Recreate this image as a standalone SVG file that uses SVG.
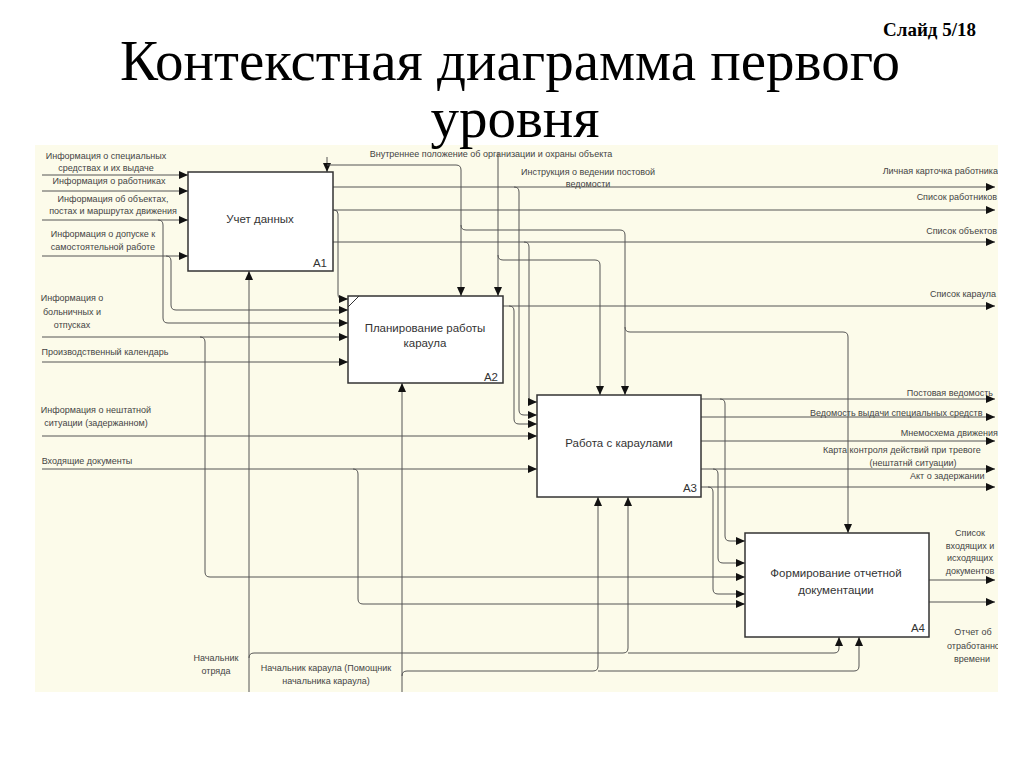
<svg xmlns="http://www.w3.org/2000/svg" width="1024" height="767" viewBox="0 0 1024 767">
<defs>
<marker id="ah" markerUnits="userSpaceOnUse" markerWidth="10" markerHeight="8" refX="9" refY="4" orient="auto">
<path d="M0,0 L9,4 L0,8 z" fill="#111"/>
</marker>
<clipPath id="area"><rect x="35" y="145" width="963" height="547"/></clipPath>
<style>
.title{font-family:"Liberation Serif","Times New Roman",serif;font-size:57px;fill:#000;text-anchor:middle}
.slide{font-family:"Liberation Serif","Times New Roman",serif;font-size:19px;font-weight:bold;fill:#000}
.box{fill:#fff;stroke:#333;stroke-width:1.5}
.bl{font-family:"Liberation Sans",Arial,sans-serif;font-size:11.5px;fill:#333;text-anchor:middle}
.bn{font-family:"Liberation Sans",Arial,sans-serif;font-size:11.5px;fill:#333;text-anchor:end}
.lb{font-family:"Liberation Sans",Arial,sans-serif;font-size:9px;fill:#444}
.m{text-anchor:middle}
.e{text-anchor:end}
.c path{fill:none;stroke:#555;stroke-width:1}
.a{marker-end:url(#ah)}
</style>
</defs>
<rect x="0" y="0" width="1024" height="767" fill="#fff"/>
<rect x="35" y="145" width="963" height="547" fill="#fcfbea"/>

<g id="title">
<text class="title" x="510" y="80">Контекстная диаграмма первого</text>
<text class="title" x="515" y="137">уровня</text>
<text class="slide" x="883" y="36">Слайд 5/18</text>
</g>

<g id="connectors" class="c" clip-path="url(#area)">
<!-- inputs to A1 -->
<path class="a" d="M42,175 H188"/>
<path class="a" d="M42,191 H188"/>
<path class="a" d="M42,220 H188"/>
<path class="a" d="M158,220 Q163,220 163,225 V318 Q163,323 168,323 H348"/>
<path class="a" d="M42,256 H188"/>
<path class="a" d="M166,256 Q171,256 171,261 V305 Q171,310 176,310 H348"/>
<!-- inputs to A2 -->
<path class="a" d="M42,337 H348"/>
<path class="a" d="M200,337 Q205,337 205,342 V572 Q205,577 210,577 H745"/>
<path class="a" d="M42,362 H348"/>
<!-- inputs to A3 -->
<path class="a" d="M42,436 H537"/>
<path class="a" d="M42,469 H537"/>
<path class="a" d="M353,469 Q358,469 358,474 V599 Q358,604 363,604 H745"/>
<!-- A1 outputs -->
<path class="a" d="M333,187 H995"/>
<path class="a" d="M514,187 Q519,187 519,192 V410 Q519,415 524,415 H537"/>
<path class="a" d="M333,210 H995"/>
<path class="a" d="M334,210 Q338,210 338,214 V294 Q338,299 342,299 H348"/>
<path class="a" d="M333,242 H995"/>
<path class="a" d="M524,242 Q529,242 529,247 V397 Q529,402 534,402 H537"/>
<!-- A2 output -->
<path class="a" d="M503,306 H995"/>
<path class="a" d="M509,306 Q514,306 514,311 V419 Q514,424 519,424 H537"/>
<!-- controls -->
<path class="a" d="M327,157 V172"/>
<path class="a" d="M327,165 H456 Q461,165 461,170 V296"/>
<path class="a" d="M461,225 Q461,230 466,230 H620 Q625,230 625,235 V395"/>
<path class="a" d="M625,327 Q625,332 630,332 H843 Q848,332 848,337 V533"/>
<path class="a" d="M498,153 V296"/>
<path class="a" d="M498,255 Q498,260 503,260 H595 Q600,260 600,265 V395"/>
<!-- mechanisms -->
<path class="a" d="M249,692 V271"/>
<path class="a" d="M249,658 Q249,653 254,653 H623 Q628,653 628,648 V497"/>
<path class="a" d="M628,653 H834 Q839,653 839,648 V637"/>
<path class="a" d="M402,692 V383"/>
<path class="a" d="M402,676 Q402,671 407,671 H593 Q598,671 598,666 V497"/>
<path class="a" d="M598,671 H854 Q859,671 859,666 V637"/>
<!-- A3 outputs -->
<path class="a" d="M701,399 H995"/>
<path class="a" d="M720,399 Q725,399 725,404 V536 Q725,541 730,541 H745"/>
<path class="a" d="M701,417 H995"/>
<path class="a" d="M701,441 H995"/>
<path class="a" d="M701,469 H995"/>
<path class="a" d="M713,469 Q718,469 718,474 V558 Q718,563 723,563 H745"/>
<path class="a" d="M701,487 H995"/>
<path class="a" d="M708,487 Q713,487 713,492 V589 Q713,594 718,594 H745"/>
<!-- A4 outputs -->
<path class="a" d="M929,580 H995"/>
<path class="a" d="M929,602 H995"/>
</g>

<g id="A1">
<rect class="box" x="188" y="172" width="145" height="99"/>
<text class="bl" x="260" y="223">Учет данных</text>
<text class="bn" x="327" y="267">A1</text>
</g>
<g id="A2">
<rect class="box" x="348" y="296" width="155" height="87"/>
<path d="M348,307 L359,296" stroke="#333" stroke-width="1"/>
<text class="bl" x="425" y="332">Планирование работы</text>
<text class="bl" x="425" y="347">караула</text>
<text class="bn" x="498" y="381">A2</text>
</g>
<g id="A3">
<rect class="box" x="537" y="395" width="164" height="102"/>
<text class="bl" x="619" y="447">Работа с караулами</text>
<text class="bn" x="697" y="492">A3</text>
</g>
<g id="A4">
<rect class="box" x="745" y="533" width="184" height="104"/>
<text class="bl" x="836" y="577">Формирование отчетной</text>
<text class="bl" x="836" y="594">документации</text>
<text class="bn" x="925" y="632">A4</text>
</g>

<g id="labels" class="lb" clip-path="url(#area)">
<text class="m" x="106" y="159">Информация о специальных</text>
<text class="m" x="106" y="171">средствах и их выдаче</text>
<text class="m" x="109" y="184">Информация о работниках</text>
<text class="m" x="113" y="202">Информация об объектах,</text>
<text class="m" x="113" y="214">постах и маршрутах движения</text>
<text class="m" x="103" y="237">Информация о допуске к</text>
<text class="m" x="103" y="250">самостоятельной работе</text>
<text class="m" x="72" y="301">Информация о</text>
<text class="m" x="72" y="315">больничных и</text>
<text class="m" x="72" y="328">отпусках</text>
<text class="m" x="105" y="355">Производственный календарь</text>
<text class="m" x="96" y="413">Информация о нештатной</text>
<text class="m" x="96" y="426">ситуации (задержанном)</text>
<text class="m" x="87" y="464">Входящие документы</text>
<text class="m" x="491" y="157">Внутреннее положение об организации и охраны объекта</text>
<text class="m" x="588" y="175">Инструкция о ведении постовой</text>
<text class="m" x="588" y="187">ведомости</text>
<text class="e" x="998" y="174">Личная карточка работника</text>
<text class="e" x="997" y="200">Список работников</text>
<text class="e" x="997" y="234">Список объектов</text>
<text x="930" y="297">Список караула</text>
<text class="e" x="993" y="396">Постовая ведомость</text>
<text x="810" y="416">Ведомость выдачи специальных средств</text>
<text class="e" x="998" y="436">Мнемосхема движения</text>
<text x="823" y="453">Карта контроля действий при тревоге</text>
<text class="m" x="913" y="466">(нештатнй ситуации)</text>
<text x="910" y="479">Акт о задержании</text>
<text class="m" x="970" y="536">Список</text>
<text class="m" x="970" y="549">входящих и</text>
<text class="m" x="970" y="561">исходящих</text>
<text class="m" x="970" y="574">документов</text>
<text class="m" x="973" y="635">Отчет об</text>
<text x="947" y="649">отработанного</text>
<text class="m" x="972" y="662">времени</text>
<text class="m" x="216" y="661">Начальник</text>
<text class="m" x="216" y="674">отряда</text>
<text class="m" x="326" y="671">Начальник караула (Помощник</text>
<text class="m" x="326" y="684">начальника караула)</text>
</g>
</svg>
